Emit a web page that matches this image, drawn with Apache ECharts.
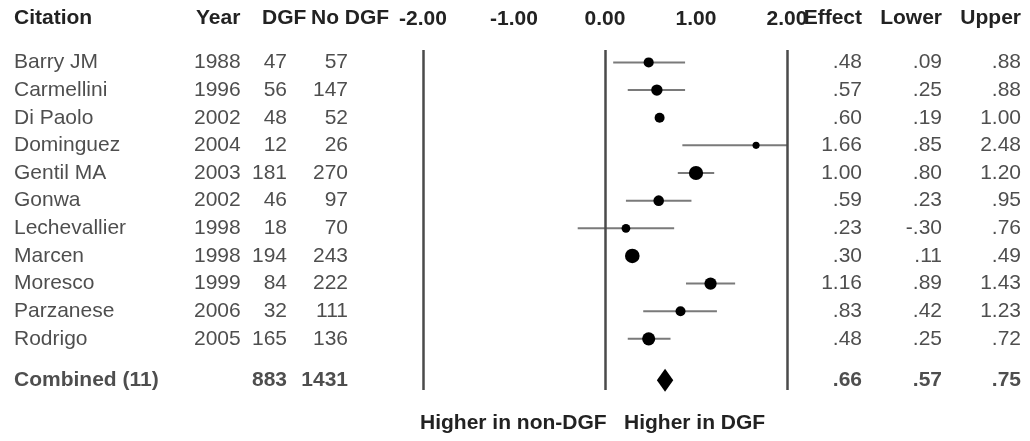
<!DOCTYPE html>
<html>
<head>
<meta charset="utf-8">
<script src="https://cdn.jsdelivr.net/npm/echarts@6/dist/echarts.min.js"></script>
<style>
    html, body { margin: 0; padding: 0; background: #fff; }
    #main { width: 1030px; height: 441px; }
</style>
</head>
<body>
<div id="main"></div>
<script>
// studies
var citations = ['Barry JM', 'Carmellini', 'Di Paolo', 'Dominguez', 'Gentil MA', 'Gonwa',
    'Lechevallier', 'Marcen', 'Moresco', 'Parzanese', 'Rodrigo'];
var years = [1988, 1996, 2002, 2004, 2003, 2002, 1998, 1998, 1999, 2006, 2005];
var dgf = [47, 56, 48, 12, 181, 46, 18, 194, 84, 32, 165];
var noDgf = [57, 147, 52, 26, 270, 97, 70, 243, 222, 111, 136];
var effect = [0.48, 0.57, 0.60, 1.66, 1.00, 0.59, 0.23, 0.30, 1.16, 0.83, 0.48];
var lower = [0.09, 0.25, 0.19, 0.85, 0.80, 0.23, -0.30, 0.11, 0.89, 0.42, 0.25];
var upper = [0.88, 0.88, 1.00, 2.48, 1.20, 0.95, 0.76, 0.49, 1.43, 1.23, 0.72];
// rows where the picture shows no CI line
var noWhisker = ['Di Paolo', 'Marcen'];

// combined
var combinedLabel = 'Combined (11)';
var combinedCounts = [883, 1431];
var combinedStats = [0.66, 0.57, 0.75]; // effect, lower, upper
var combinedRow = 11.5;

var refLines = [-2, 0, 2];

var FONT = '"Liberation Sans", Arial, sans-serif';
var FS = 21;
var TXT = '#222';

function fmt(v) {
    return v.toFixed(2).replace(/^(-?)0\./, '$1.');
}

var chart = echarts.init(document.getElementById('main'));

// study rows for the plot
var ciData = [], dotData = [];
for (var i = 0; i < citations.length; i++) {
    if (noWhisker.indexOf(citations[i]) < 0) {
        ciData.push([lower[i], i, upper[i]]);
    }
    dotData.push([effect[i], i, lower[i], upper[i]]);
}

// table text columns -> [x, row, text]
function col(x, values, f) {
    return values.map(function (v, i) { return [x, i, f ? f(v) : String(v)]; });
}
function textSeries(data, pos) {
    return {
        type: 'scatter',
        xAxisIndex: 1,
        yAxisIndex: 1,
        symbolSize: 0,
        silent: true,
        data: data,
        label: {
            show: true,
            position: pos,
            distance: 0,
            color: TXT,
            fontFamily: FONT,
            fontSize: FS,
            formatter: function (p) { return p.value[2]; }
        }
    };
}
function boldItem(x, text) {
    return { value: [x, combinedRow, text], label: { fontWeight: 'bold' } };
}

var colCitation = col(14, citations);
colCitation.push(boldItem(14, combinedLabel));
var colYear = col(194, years);
var colDgf = col(287, dgf);
colDgf.push(boldItem(287, String(combinedCounts[0])));
var colNoDgf = col(348, noDgf);
colNoDgf.push(boldItem(348, String(combinedCounts[1])));
var colEffect = col(862, effect, fmt);
colEffect.push(boldItem(862, fmt(combinedStats[0])));
var colLower = col(942, lower, fmt);
colLower.push(boldItem(942, fmt(combinedStats[1])));
var colUpper = col(1021, upper, fmt);
colUpper.push(boldItem(1021, fmt(combinedStats[2])));

function header(x, y, text, align) {
    return {
        type: 'text', x: x, y: y,
        style: { text: text, fill: TXT, font: 'bold ' + FS + 'px ' + FONT, align: align, verticalAlign: 'middle' }
    };
}

var option = {
    backgroundColor: '#fff',
    animation: false,
    grid: [
        { left: 423, right: 243, top: 50, bottom: 51 },
        { left: 0, right: 0, top: 50, bottom: 51 }
    ],
    xAxis: [
        {
            type: 'value', gridIndex: 0, position: 'top',
            min: -2, max: 2, interval: 1,
            axisLine: { show: false }, axisTick: { show: false }, splitLine: { show: false },
            axisLabel: {
                margin: 20, color: TXT, fontFamily: FONT, fontSize: FS, fontWeight: 'bold',
                formatter: function (v) { return v.toFixed(2); }
            }
        },
        { type: 'value', gridIndex: 1, min: 0, max: 1030, show: false }
    ],
    yAxis: [
        { type: 'value', gridIndex: 0, inverse: true, min: -0.45, max: 11.85, show: false },
        { type: 'value', gridIndex: 1, inverse: true, min: -0.45, max: 11.85, show: false }
    ],
    graphic: [
        header(14, 18, 'Citation', 'left'),
        header(196, 18, 'Year', 'left'),
        header(262, 18, 'DGF', 'left'),
        header(311, 18, 'No DGF', 'left'),
        header(862, 18, 'Effect', 'right'),
        header(942, 18, 'Lower', 'right'),
        header(1021, 18, 'Upper', 'right'),
        header(420, 423, 'Higher in non-DGF', 'left'),
        header(624, 423, 'Higher in DGF', 'left')
    ],
    series: [
        {
            // reference lines
            type: 'line',
            xAxisIndex: 0, yAxisIndex: 0,
            data: [],
            markLine: {
                silent: true,
                symbol: 'none',
                label: { show: false },
                lineStyle: { color: '#4a4a4a', width: 2.5, type: 'solid' },
                data: refLines.map(function (v) { return { xAxis: v }; })
            }
        },
        {
            // confidence intervals
            type: 'custom',
            xAxisIndex: 0, yAxisIndex: 0,
            data: ciData,
            renderItem: function (params, api) {
                var row = api.value(1);
                var a = api.coord([Math.max(api.value(0), -2), row]);
                var b = api.coord([Math.min(api.value(2), 2), row]);
                return {
                    type: 'line',
                    shape: { x1: a[0], y1: a[1], x2: b[0], y2: b[1] },
                    style: { stroke: '#7a7a7a', lineWidth: 2 }
                };
            }
        },
        {
            // study effects, size by precision
            type: 'scatter',
            xAxisIndex: 0, yAxisIndex: 0,
            data: dotData,
            symbol: 'circle',
            symbolSize: function (v) { return 9 * Math.sqrt(1 / (v[3] - v[2])); },
            itemStyle: { color: '#000', opacity: 1 }
        },
        {
            // combined diamond
            type: 'custom',
            xAxisIndex: 0, yAxisIndex: 0,
            data: [[combinedStats[0], combinedRow, combinedStats[1], combinedStats[2]]],
            renderItem: function (params, api) {
                var row = api.value(1);
                var c = api.coord([api.value(0), row]);
                var l = api.coord([api.value(2), row]);
                var r = api.coord([api.value(3), row]);
                var h = 11.5;
                return {
                    type: 'polygon',
                    shape: { points: [[l[0], c[1]], [c[0], c[1] - h], [r[0], c[1]], [c[0], c[1] + h]] },
                    style: { fill: '#000' }
                };
            }
        },
        textSeries(colCitation, 'right'),
        textSeries(colYear, 'right'),
        textSeries(colDgf, 'left'),
        textSeries(colNoDgf, 'left'),
        textSeries(colEffect, 'left'),
        textSeries(colLower, 'left'),
        textSeries(colUpper, 'left')
    ]
};
chart.setOption(option);
</script>
</body>
</html>
